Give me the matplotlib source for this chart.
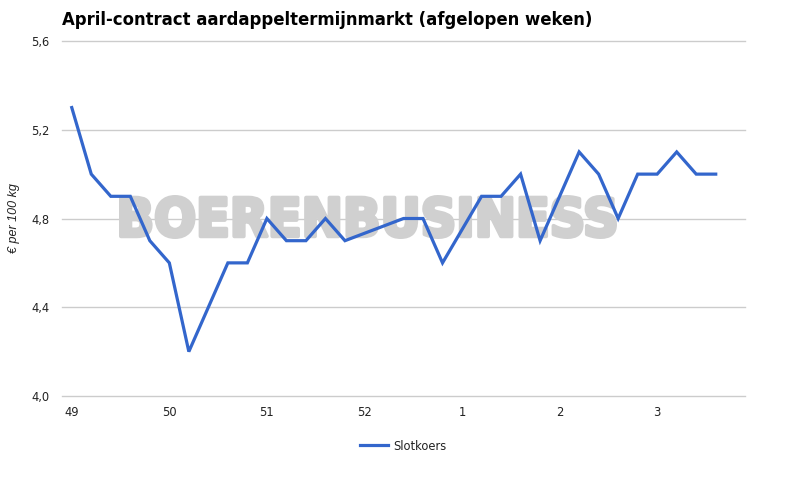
import numpy as np
import matplotlib
matplotlib.use("Agg")
import matplotlib.pyplot as plt
from matplotlib.textpath import TextPath
from matplotlib.font_manager import FontProperties
from matplotlib.patches import PathPatch
from matplotlib.transforms import Affine2D, IdentityTransform
from matplotlib.ticker import FuncFormatter

title = "April-contract aardappeltermijnmarkt (afgelopen weken)"
y_label = "€ per 100 kg"
series_name = "Slotkoers"
week_labels = ["49", "50", "51", "52", "1", "2", "3"]
days_per_week = 5
slotkoers = [5.3, 5.0, 4.9, 4.9, 4.7, 4.6, 4.2, 4.4, 4.6, 4.6,
             4.8, 4.7, 4.7, 4.8, 4.7, None, None, 4.8, 4.8, 4.6,
             None, 4.9, 4.9, 5.0, 4.7, 4.9, 5.1, 5.0, 4.8, 5.0,
             5.0, 5.1, 5.0, 5.0]
y_ticks = [4.0, 4.4, 4.8, 5.2, 5.6]
watermark = "BOERENBUSINESS"

W, H = 785, 479
fig = plt.figure(figsize=(W / 100, H / 100), dpi=100)
L, R, T, B = 62, 745, 41, 396
ax = fig.add_axes([L / W, 1 - B / H, (R - L) / W, (B - T) / H])

idx = np.arange(len(slotkoers))
vals = np.array([np.nan if v is None else v for v in slotkoers], dtype=float)
mask = ~np.isnan(vals)
line, = ax.plot(idx[mask], vals[mask], color="#3366cc", lw=2.3,
                solid_joinstyle="miter", zorder=3, label=series_name)

n_slots = len(week_labels) * days_per_week
ax.set_xlim(-0.5, n_slots - 0.5)
ax.set_ylim(y_ticks[0], y_ticks[-1])
ax.set_yticks(y_ticks)
ax.yaxis.set_major_formatter(FuncFormatter(lambda v, p: f"{v:.1f}".replace(".", ",")))
ax.set_xticks(np.arange(len(week_labels)) * days_per_week)
ax.set_xticklabels(week_labels)
ax.grid(axis="y", color="#cccccc", lw=1.0, zorder=0)
for gl in ax.get_ygridlines():
    gl.set_clip_on(False)
ax.set_axisbelow(True)
for s in ax.spines.values():
    s.set_visible(False)
ax.tick_params(axis="both", length=0, labelsize=8.3, labelcolor="#222222")
ax.tick_params(axis="y", pad=9)
ax.tick_params(axis="x", pad=7)

# watermark
stroke = 4.0
fp = FontProperties(family="DejaVu Sans", weight="bold")
tp = TextPath((0, 0), watermark, prop=fp, size=100)
ext = tp.get_extents()
wx0, wx1, wy0, wy1 = 119 + stroke / 2, 617 - stroke / 2, 195 + stroke / 2, 239 - stroke / 2
sx = (wx1 - wx0) / ext.width
sy = (wy1 - wy0) / ext.height
tr = Affine2D().translate(-ext.x0, -ext.y0).scale(sx, sy).translate(wx0, H - wy1)
wm = PathPatch(tr.transform_path(tp), facecolor="#d0d0d0", edgecolor="#d0d0d0",
               lw=stroke * 0.72, joinstyle="round",
               transform=IdentityTransform(), zorder=1.5, clip_on=False)
ax.add_artist(wm)

ax.text(14 / W, 1 - 218 / H, y_label, transform=fig.transFigure, rotation=90,
        ha="center", va="center", fontsize=9, style="italic",
        family="Liberation Sans", color="#222222")

t = fig.text(L / W, 1 - 20 / H, title, ha="left", va="center",
             fontsize=12, weight="bold", color="#000000")
fig.canvas.draw()
bb = t.get_window_extent()
t.set_fontsize(12 * (593 - 62) / bb.width)

fig.legend(handles=[line], labels=[series_name], loc="center left",
           bbox_to_anchor=(360 / W, 1 - 446 / H), frameon=False,
           borderpad=0, borderaxespad=0, handlelength=2.4, handletextpad=0.45,
           fontsize=8.3, labelcolor="#222222")

fig.savefig("out.png", dpi=100)
